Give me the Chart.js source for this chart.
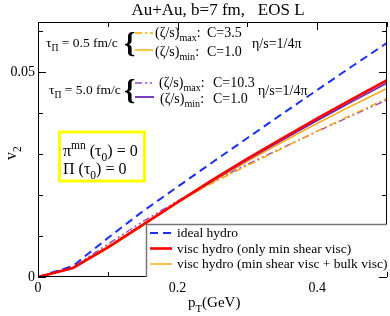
<!DOCTYPE html>
<html><head><meta charset="utf-8">
<script src="https://cdn.jsdelivr.net/npm/chart.js@4/dist/chart.umd.min.js"></script>
<style>html,body{margin:0;padding:0;background:#fff}#wrap{width:390px;height:316px;position:relative}</style>
</head><body><div id="wrap"><canvas id="c"></canvas></div>
<script>
// ---- data ----
const pT = [0, 0.05, 0.1, 0.15, 0.2, 0.25, 0.3, 0.35, 0.4, 0.45, 0.5];
const idealHydro    = [0, 0.0027, 0.0095, 0.0160, 0.0220, 0.0280, 0.0339, 0.0398, 0.0456, 0.0514, 0.0571];
const viscShearOnly = [0, 0.0022, 0.0072, 0.0127, 0.0183, 0.0237, 0.0289, 0.0338, 0.0387, 0.0434, 0.0480];
const tau05Min      = [0, 0.0021, 0.0070, 0.0125, 0.0180, 0.0232, 0.0282, 0.0329, 0.0375, 0.0418, 0.0460];
const tau05Max      = [0, 0.0022, 0.0076, 0.0130, 0.0183, 0.0229, 0.0272, 0.0314, 0.0356, 0.0396, 0.0436];
const tau50Min      = [0, 0.0022, 0.0072, 0.0127, 0.0182, 0.0235, 0.0286, 0.0334, 0.0382, 0.0428, 0.0473];
const tau50Max      = [0, 0.0024, 0.0080, 0.0135, 0.0186, 0.0232, 0.0275, 0.0315, 0.0355, 0.0394, 0.0432];
const xTicks = [0, 0.1, 0.2, 0.3, 0.4, 0.5];
const xTickLabels = ['0', '', '0.2', '', '0.4', ''];
const yTicks = [0, 0.01, 0.02, 0.03, 0.04, 0.05, 0.06];
const yTickLabels = ['0', '', '', '', '', '0.05', ''];
const legendLabels = ['ideal hydro', 'visc hydro (only min shear visc)', 'visc hydro (min shear visc + bulk visc)'];

const SERIF = '"Liberation Serif","Times New Roman",serif';
const BLUE = '#1a2ff0', RED = '#ff0000', ORANGE = '#ffa500', PURPLE = '#6a28b8', LPURPLE = '#9445d6';

function pts(ys){ return pT.map((x,i)=>({x:x, y:ys[i]})); }

const datasets = [
  {label: legendLabels[1], data: pts(viscShearOnly), borderColor: RED, borderWidth: 2.6, order: 0},
  {label: 'τΠ=5.0 (ζ/s)min C=1.0', data: pts(tau50Min), borderColor: PURPLE, borderWidth: 1.8, order: 1},
  {label: legendLabels[2], data: pts(tau05Min), borderColor: ORANGE, borderWidth: 1.4, order: 2},
  {label: 'τΠ=0.5 (ζ/s)max C=3.5', data: pts(tau05Max), borderColor: ORANGE, borderWidth: 1.4, borderDash: [7,3,2,3], order: 3},
  {label: 'τΠ=5.0 (ζ/s)max C=10.3', data: pts(tau50Max), borderColor: LPURPLE, borderWidth: 1.4, borderDash: [7,3,2,3,2,3], order: 4},
  {label: legendLabels[0], data: pts(idealHydro), borderColor: BLUE, borderWidth: 2, borderDash: [8,5], order: 5}
];
datasets.forEach(d=>{ d.pointRadius = 0; d.tension = 0; d.fill = false; });

function rich(ctx, x, y, parts, size) {
  let cx = x;
  for (const p of parts) {
    const t = p[0], m = p[1];
    let fs = size, dy = 0;
    if (m === 'sub') { fs = size*0.72; dy = size*0.3; }
    else if (m === 'sup') { fs = size*0.72; dy = -size*0.42; }
    ctx.font = fs + 'px ' + SERIF;
    ctx.fillText(t, cx, y + dy);
    cx += ctx.measureText(t).width;
  }
  return cx;
}
function sample(ctx, ds, x1, x2, y) {
  ctx.save();
  ctx.strokeStyle = ds.borderColor; ctx.lineWidth = ds.borderWidth;
  ctx.setLineDash(ds.borderDash || []);
  ctx.beginPath(); ctx.moveTo(x1, y); ctx.lineTo(x2, y); ctx.stroke();
  ctx.restore();
}
const byLabel = l => datasets.find(d=>d.label===l);

const decor = {
  id: 'decor',
  afterDatasetsDraw(chart) {
    const ctx = chart.ctx, a = chart.chartArea;
    const xs = chart.scales.x, ys = chart.scales.y;
    ctx.save();
    // frame
    ctx.strokeStyle = '#000'; ctx.lineWidth = 1;
    ctx.strokeRect(a.left + 0.5, a.top + 0.5, a.right - a.left - 1, a.bottom - a.top - 1);
    // inward ticks
    ctx.beginPath();
    xTicks.forEach((v,i)=>{
      const px = Math.round(xs.getPixelForValue(v)) + 0.5;
      const L = xTickLabels[i] ? 8 : 5;
      ctx.moveTo(px, a.bottom); ctx.lineTo(px, a.bottom - L);
      ctx.moveTo(px, a.top); ctx.lineTo(px, a.top + L);
    });
    yTicks.forEach((v,i)=>{
      const py = Math.round(ys.getPixelForValue(v)) + 0.5;
      const L = yTickLabels[i] ? 8 : 5;
      ctx.moveTo(a.left, py); ctx.lineTo(a.left + L, py);
      ctx.moveTo(a.right, py); ctx.lineTo(a.right - L, py);
    });
    ctx.stroke();

    ctx.fillStyle = '#000'; ctx.textBaseline = 'alphabetic'; ctx.textAlign = 'left';
    // title
    ctx.font = '17px ' + SERIF; ctx.textAlign = 'center';
    ctx.fillText('Au+Au, b=7 fm,   EOS L', 218, 15);
    ctx.textAlign = 'left';
    // axis titles
    rich(ctx, 188, 307, [['p'],['T','sub'],['(GeV)']], 15);
    ctx.save(); ctx.translate(16, 160); ctx.rotate(-Math.PI/2);
    rich(ctx, 0, 0, [['v'],['2','sub']], 16);
    ctx.restore();

    // annotation group 1
    rich(ctx, 46, 47, [['τ'],['Π','sub'],[' = 0.5 fm/c']], 13.5);
    ctx.font = 'bold 29px ' + SERIF; ctx.fillText('{', 124, 53);
    sample(ctx, byLabel('τΠ=0.5 (ζ/s)max C=3.5'), 135, 153, 33);
    sample(ctx, byLabel(legendLabels[2]), 135, 153, 50);
    rich(ctx, 155, 37, [['(ζ/s)'],['max','sub'],[':']], 14);
    rich(ctx, 207, 37, [['C=3.5']], 14);
    rich(ctx, 155, 56, [['(ζ/s)'],['min','sub'],[':']], 14);
    rich(ctx, 207, 56, [['C=1.0']], 14);
    rich(ctx, 252, 48, [['η/s=1/4π']], 14);

    // annotation group 2
    rich(ctx, 49, 94, [['τ'],['Π','sub'],[' = 5.0 fm/c']], 13.5);
    ctx.font = 'bold 29px ' + SERIF; ctx.fillText('{', 124, 100);
    sample(ctx, byLabel('τΠ=5.0 (ζ/s)max C=10.3'), 135, 154, 83);
    sample(ctx, byLabel('τΠ=5.0 (ζ/s)min C=1.0'), 135, 154, 97);
    rich(ctx, 159, 87, [['(ζ/s)'],['max','sub'],[':']], 14);
    rich(ctx, 213, 87, [['C=10.3']], 14);
    rich(ctx, 160, 103, [['(ζ/s)'],['min','sub'],[':']], 14);
    rich(ctx, 213, 103, [['C=1.0']], 14);
    rich(ctx, 258, 95, [['η/s=1/4π']], 14);

    // yellow box
    ctx.strokeStyle = '#ffff00'; ctx.lineWidth = 3;
    ctx.strokeRect(59.5, 132, 85, 49);
    rich(ctx, 63, 156, [['π'],['mn','sup'],[' (τ'],['0','sub'],[') = 0']], 16);
    rich(ctx, 63, 174, [['Π (τ'],['0','sub'],[') = 0']], 16);

    // legend box
    ctx.fillStyle = '#fff';
    ctx.fillRect(146, 224, a.right - 146, a.bottom - 224);
    ctx.strokeStyle = '#777'; ctx.lineWidth = 1.5;
    ctx.beginPath();
    ctx.moveTo(146.5, a.bottom); ctx.lineTo(146.5, 224.5); ctx.lineTo(a.right, 224.5);
    ctx.stroke();
    ctx.fillStyle = '#000';
    legendLabels.forEach((l,i)=>{
      const y = 233 + i*15.5;
      sample(ctx, byLabel(l), 150, 172, y);
      ctx.font = '13.5px ' + SERIF; ctx.textBaseline = 'middle';
      ctx.fillText(l, 177, y + 0.5);
      ctx.textBaseline = 'alphabetic';
    });
    ctx.restore();
  }
};

new Chart(document.getElementById('c'), {
  type: 'line',
  data: { datasets },
  options: {
    responsive: true, maintainAspectRatio: false, animation: false,
    layout: { padding: { left: 0, top: 22, right: 2, bottom: 0 } },
    plugins: { legend: { display: false }, tooltip: { enabled: false } },
    scales: {
      x: {
        type: 'linear', min: 0, max: 0.5,
        afterFit: s => { s.height = 39; },
        afterBuildTicks: s => { s.ticks = xTicks.map(v=>({value: v})); },
        grid: { display: false, drawTicks: false }, border: { display: false },
        ticks: { padding: 3, maxRotation: 0, autoSkip: false, color: '#000',
          font: { family: SERIF, size: 14 },
          callback: (v) => { const i = xTicks.findIndex(t=>Math.abs(t-v)<1e-9); return i>=0 ? xTickLabels[i] : ''; } }
      },
      y: {
        type: 'linear', min: 0, max: 0.0622,
        afterFit: s => { s.width = 38; },
        afterBuildTicks: s => { s.ticks = yTicks.map(v=>({value: v})); },
        grid: { display: false, drawTicks: false }, border: { display: false },
        ticks: { padding: 3, autoSkip: false, color: '#000',
          font: { family: SERIF, size: 14 },
          callback: (v) => { const i = yTicks.findIndex(t=>Math.abs(t-v)<1e-9); return i>=0 ? yTickLabels[i] : ''; } }
      }
    }
  },
  plugins: [decor]
});
</script></body></html>
